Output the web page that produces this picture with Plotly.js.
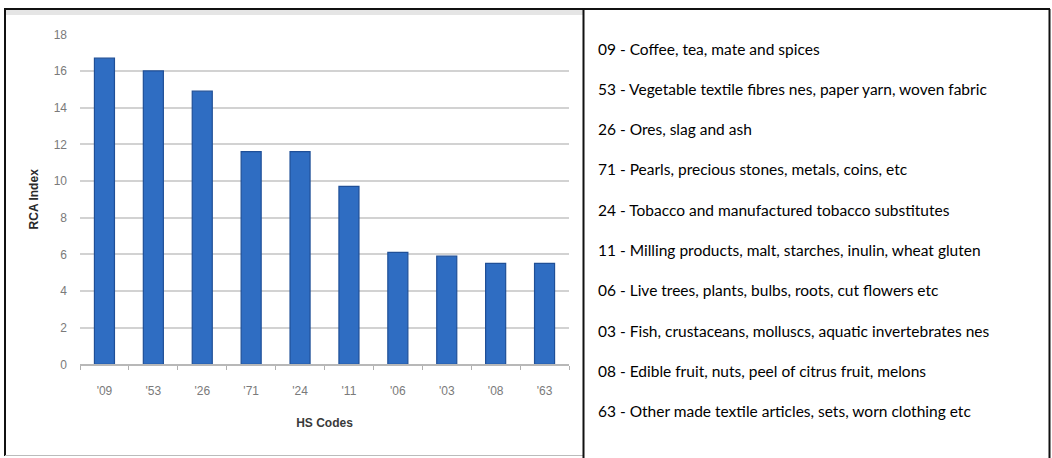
<!DOCTYPE html>
<html>
<head>
<meta charset="utf-8">
<script src="https://cdn.plot.ly/plotly-3.0.1.min.js"></script>
<style>
  html, body { margin: 0; padding: 0; background: #ffffff; }
  #chart { width: 1052px; height: 458px; }
</style>
</head>
<body>
<div id="chart"></div>
<script>
// HS chapters ranked by Revealed Comparative Advantage
const codeLabels = ["'09", "'53", "'26", "'71", "'24", "'11", "'06", "'03", "'08", "'63"];
const rcaValues = [16.7, 16.0, 14.9, 11.6, 11.6, 9.7, 6.1, 5.9, 5.5, 5.5];
const descriptions = [
  "09 - Coffee, tea, mate and spices",
  "53 - Vegetable textile fibres nes, paper yarn, woven fabric",
  "26 - Ores, slag and ash",
  "71 - Pearls, precious stones, metals, coins, etc",
  "24 - Tobacco and manufactured tobacco substitutes",
  "11 - Milling products, malt, starches, inulin, wheat gluten",
  "06 - Live trees, plants, bulbs, roots, cut flowers etc",
  "03 - Fish, crustaceans, molluscs, aquatic invertebrates nes",
  "08 - Edible fruit, nuts, peel of citrus fruit, melons",
  "63 - Other made textile articles, sets, worn clothing etc"
];
const yTicks = [0, 2, 4, 6, 8, 10, 12, 14, 16, 18];

const W = 1052, H = 458;
const px = x => x / W;           // pixel -> paper x
const py = y => 1 - y / H;       // pixel -> paper y

const trace = {
  type: 'bar',
  x: codeLabels,
  y: rcaValues,
  marker: { color: '#2f6dc2', line: { color: '#1f4f97', width: 1.2 } },
  hoverinfo: 'x+y'
};

// descriptive list in the right-hand box
const rowTop = 48.5, rowStep = 40.3;
const listNotes = descriptions.map((t, i) => ({
  text: t, xref: 'paper', yref: 'paper',
  x: px(596), y: py(rowTop + i * rowStep),
  xanchor: 'left', yanchor: 'middle', showarrow: false,
  font: { family: 'Lato, "Open Sans", sans-serif', size: 15.5, color: '#000000' }
}));

const frame = { color: '#111111', width: 2 };
const shapes = [
  // soft shadow under the chart panel's top edge
  { type: 'rect', xref: 'paper', yref: 'paper', x0: px(5), x1: px(583), y0: py(10), y1: py(15),
    fillcolor: 'rgba(150,150,150,0.25)', line: { width: 0 }, layer: 'below' },
  { type: 'line', xref: 'paper', yref: 'paper', x0: px(4), x1: px(1050), y0: py(9), y1: py(9), line: frame },
  { type: 'line', xref: 'paper', yref: 'paper', x0: px(5), x1: px(5), y0: py(9), y1: py(456), line: frame },
  { type: 'line', xref: 'paper', yref: 'paper', x0: px(5), x1: px(583), y0: py(455.5), y1: py(455.5),
    line: { color: '#bbbbbb', width: 1 } },
  { type: 'line', xref: 'paper', yref: 'paper', x0: px(583.5), x1: px(583.5), y0: py(8), y1: py(458), line: frame },
  { type: 'line', xref: 'paper', yref: 'paper', x0: px(1049.5), x1: px(1049.5), y0: py(9), y1: py(458), line: frame }
];

const layout = {
  width: W, height: H,
  margin: { l: 0, r: 0, t: 0, b: 0 },
  paper_bgcolor: '#ffffff',
  plot_bgcolor: '#ffffff',
  showlegend: false,
  bargap: 0.59,
  font: { family: '"Liberation Sans", Arial, sans-serif' },
  xaxis: {
    domain: [px(80), px(569)],
    type: 'category',
    tickson: 'boundaries',
    ticks: 'outside', ticklen: 4, tickcolor: '#b0b0b0',
    showline: true, linecolor: '#b8b8b8', linewidth: 2,
    showgrid: false,
    ticklabelstandoff: 14,
    tickfont: { size: 12, color: '#7a7a7a' },
    title: { text: 'HS Codes', font: { size: 12, color: '#3a3a3a', weight: 'bold' }, standoff: 22 }
  },
  yaxis: {
    domain: [py(364.3), py(34.3)],
    range: [0, 18],
    tickvals: yTicks,
    ticktext: yTicks.map(String),
    showgrid: true, gridcolor: '#d2d2d2', gridwidth: 2,
    zeroline: false,
    showline: false,
    ticks: '',
    ticklabelstandoff: 12,
    tickfont: { size: 12, color: '#7a7a7a' },
    title: { text: 'RCA Index', font: { size: 12, color: '#2a2a2a', weight: 'bold' }, standoff: 12 }
  },
  annotations: listNotes,
  shapes: shapes
};

Plotly.newPlot('chart', [trace], layout, { displayModeBar: false, staticPlot: true });
</script>
</body>
</html>
